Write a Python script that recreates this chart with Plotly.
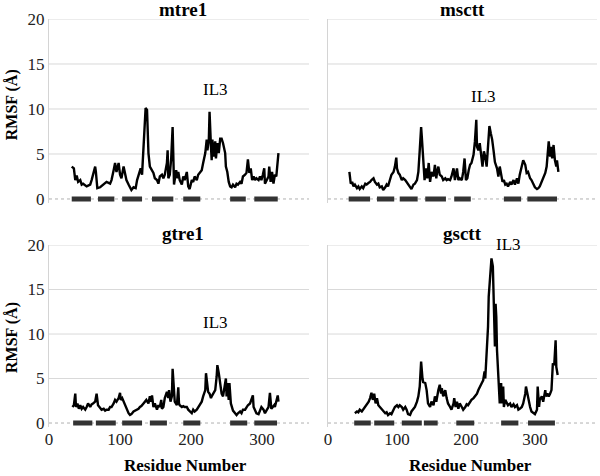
import plotly.graph_objects as go

# ---------------- data ----------------
panel_names = ["mtre1", "msctt", "gtre1", "gsctt"]

mtre1_res = [32,35,37,39,41,44,46,48,53,58,60,62,65,66,68,72,77,81,86,88,91,93,95,98,100,102,105,107,109,112,114,116,119,122,124,127,129,131,134,136,138,139,140,142,145,147,149,152,154,156,159,161,163,166,167,168,170,172,174,175,176,179,181,182,184,187,189,191,194,196,198,201,203,205,208,210,212,215,217,220,222,223,225,226,228,229,230,232,234,235,237,239,241,243,245,248,249,251,253,255,257,259,262,264,266,269,271,273,276,278,280,282,284,286,288,290,292,295,297,299,301,303,304,306,309,310,312,314,316,318,320,323]
mtre1_rmsf = [3.6,3.4,2.1,2.6,1.9,2.1,1.6,1.7,1.4,1.6, 2.1,2.7,3.6,3.0,1.2,1.3,1.6,1.9,1.7,2.1, 3.2,4.0,3.0,4.0,2.7,2.3,3.6,2.9,2.1,1.6, 1.2,1.0,1.3,1.2,2.1,3.0,3.4,2.7,6.6,10.1, 9.9,8.0,5.1,3.6,3.2,2.9,2.3,2.1,1.7,2.5, 2.7,2.3,2.7,4.0,5.4,2.3,2.7,4.5,8.0,5.4, 1.6,3.2,2.3,3.0,2.1,1.6,2.5,2.1,3.0,1.4, 1.1,2.1,1.9,2.5,2.1,2.7,2.9,3.2,4.0,5.1, 6.6,5.4,6.6,9.7,5.8,4.3,6.6,4.7,6.4,4.5, 6.2,5.1,6.7,6.7,6.2,5.1,3.6,3.0,1.9,1.4, 1.3,1.6,1.3,1.7,1.6,1.9,1.7,2.5,2.7,2.9, 4.4,2.9,3.4,2.1,2.5,2.1,2.3,2.1,2.5,2.1, 2.7,3.4,1.7,2.1,2.5,3.6,1.9,3.0,1.7,2.7, 2.5,5.1]

msctt_res = [31,33,35,37,39,42,44,46,49,51,54,56,59,61,63,66,68,71,73,75,78,80,83,85,87,90,92,95,97,99,100,102,104,107,109,112,114,116,119,121,124,126,129,131,133,135,136,138,140,142,144,146,148,150,153,155,157,158,160,162,165,167,170,172,174,177,179,182,184,187,189,191,194,196,198,200,202,204,206,208,211,213,215,216,218,220,222,224,226,228,230,232,234,236,238,240,242,245,247,249,251,253,255,257,259,261,264,266,269,271,274,276,278,281,283,286,288,290,293,295,298,300,303,305,307,310,312,315,317,320,322,323,325,327,329,331,332,334]
msctt_rmsf = [3.0,1.7,1.9,1.4,1.6,1.2,1.4,1.1,1.4,1.2, 1.7,1.6,1.8,1.9,2.1,2.3,1.9,1.6,1.7,1.3, 1.4,1.0,1.3,1.6,1.4,2.1,2.7,3.0,3.6,4.6, 3.4,2.9,2.7,2.1,2.3,2.1,1.9,1.7,1.3,1.1, 1.6,1.7,2.1,3.0,5.4,8.0,6.9,4.7,2.1,3.4, 2.3,4.0,1.9,3.0,2.5,3.8,2.3,2.9,3.6,2.7, 2.5,2.1,2.3,2.1,2.2,2.1,2.5,3.4,2.1,3.4, 2.1,2.3,2.1,3.0,4.5,2.1,2.3,3.2,3.8,4.0, 4.9,6.4,8.8,5.8,5.4,6.2,4.7,3.6,5.3,4.7, 3.6,6.2,8.1,7.3,6.6,5.4,4.1,3.4,2.5,3.6, 2.7,1.9,2.1,1.6,1.7,1.4,1.9,1.6,2.1,1.6, 2.3,1.7,2.7,3.6,4.3,3.8,2.9,3.0,2.3,2.1, 1.6,1.3,1.1,1.2,1.4,1.9,2.3,2.9,3.6,6.4, 4.7,5.8,4.5,6.0,4.3,3.6,4.3,3.0]

gtre1_res = [33,35,37,38,40,42,44,46,48,51,53,55,58,60,62,65,67,69,71,74,77,79,81,84,86,88,91,93,95,98,100,101,103,106,108,110,112,114,116,119,121,123,126,128,130,133,135,137,140,142,144,145,147,149,152,154,156,158,159,161,163,166,168,169,171,173,174,176,177,180,182,183,184,187,189,191,194,196,198,201,203,205,208,210,212,215,217,220,221,222,224,226,228,229,231,234,236,237,239,241,243,245,247,249,250,251,253,254,256,258,259,262,264,266,269,271,273,276,278,280,283,285,287,288,290,292,295,297,299,302,304,306,309,310,311,313,315,317,318,320,322,323]
gtre1_rmsf = [1.8,2.0,3.3,1.8,2.2,1.6,2.0,1.6,1.8,1.5, 1.8,2.2,1.8,2.1,2.2,2.4,3.3,2.0,1.8,1.5, 1.6,1.4,1.5,1.5,1.8,1.8,2.2,2.6,2.4,2.8, 3.4,2.6,2.8,2.2,1.8,1.5,1.1,0.9,1.0,1.3, 1.4,1.5,1.6,1.8,1.9,2.2,2.4,2.6,2.2,3.0, 2.4,3.1,1.8,2.2,1.5,2.0,1.8,2.6,1.6,1.8, 2.8,3.5,2.8,3.7,2.4,3.0,6.1,3.7,2.4,2.0, 4.0,2.2,2.0,1.8,1.9,1.8,1.8,1.5,1.3,1.1, 1.5,1.3,1.5,1.8,2.1,2.4,3.0,3.7,5.6,4.6, 3.5,3.3,2.8,3.0,3.3,3.7,5.2,6.5,5.6,4.5, 3.3,3.0,4.1,5.0,3.0,4.5,2.6,4.5,2.2,1.8, 1.4,1.1,0.9,1.1,1.3,1.1,1.5,1.5,1.8,2.0, 2.2,2.8,3.1,1.8,1.5,1.1,1.0,1.5,1.8,1.5, 1.1,1.4,1.8,2.6,3.4,1.6,1.8,2.0,1.8,2.6, 3.1,2.4]

gsctt_res = [39,42,44,46,49,51,54,56,59,61,63,65,67,69,71,73,75,78,80,83,85,87,90,92,95,97,100,102,104,107,109,112,114,116,119,121,124,126,129,131,133,135,137,138,141,143,145,148,150,153,155,157,160,162,164,165,167,170,172,174,177,179,182,183,185,187,189,191,194,196,199,201,203,206,208,211,213,216,218,220,223,225,227,228,230,232,233,235,236,237,239,240,241,242,243,244,245,247,248,249,251,252,254,255,257,259,261,264,266,269,271,274,276,278,281,283,286,287,289,291,293,295,298,300,303,304,306,307,310,312,315,316,318,320,322,324,326,328,330,331,333]
gsctt_rmsf = [1.1,1.3,1.2,1.5,1.3,1.5,1.8,2.0,2.4,2.8, 3.4,2.6,3.3,2.2,2.8,2.0,1.8,1.5,1.3,1.1, 1.2,0.9,1.1,1.0,1.5,1.8,2.0,1.8,2.0,1.8, 1.5,1.8,1.5,1.0,0.9,1.3,1.6,1.8,2.4,3.0, 4.1,6.9,5.0,4.6,4.5,3.7,2.2,1.8,2.4,2.0, 3.0,2.4,3.7,4.3,3.3,3.9,3.0,3.7,2.8,2.2, 1.8,1.5,2.2,2.8,1.8,2.4,1.6,2.2,1.8,1.5, 1.8,2.1,2.0,2.4,2.6,2.8,3.0,3.3,3.7,4.1, 4.5,4.8,5.8,5.0,8.2,10.8,14.2,16.4,17.9,18.5, 17.6,14.9,11.9,8.6,13.4,11.9,8.2,4.5,3.7,2.2, 4.5,2.2,4.1,1.8,2.6,2.2,2.0,2.2,1.8,2.1, 1.8,2.0,1.5,1.6,1.8,2.2,3.3,4.1,3.3,2.2, 1.8,1.3,1.1,1.0,1.5,4.1,1.8,2.6,3.0,2.4, 3.7,3.0,3.3,3.0,3.3,3.7,6.7,6.5,9.3,6.3, 5.4]

# transmembrane helix segments (start / end residue)
mtre1_tm_start = [32, 69, 103, 145, 189, 255, 289]
mtre1_tm_end   = [59, 92, 131, 175, 213, 277, 322]
msctt_tm_start = [30, 71, 104, 141, 183, 255, 289]
msctt_tm_end   = [61, 96, 130, 171, 207, 280, 332]
gtre1_tm_start = [34, 66, 103, 142, 189, 255, 289]
gtre1_tm_end   = [61, 94, 131, 166, 213, 279, 321]
gsctt_tm_start = [38, 67, 107, 139, 186, 251, 290]
gsctt_tm_end   = [62, 96, 136, 159, 212, 276, 329]

# IL3 label positions (residue, RMSF)
il3_x = [235, 225, 235, 261]
il3_y = [12.2, 11.4, 11.3, 20.0]

y_ticks = [0, 5, 10, 15, 20]
x_ticks = [0, 100, 200, 300]

# ---------------- figure ----------------
SERIF = "Liberation Serif"
series = [
    (mtre1_res, mtre1_rmsf, mtre1_tm_start, mtre1_tm_end),
    (msctt_res, msctt_rmsf, msctt_tm_start, msctt_tm_end),
    (gtre1_res, gtre1_rmsf, gtre1_tm_start, gtre1_tm_end),
    (gsctt_res, gsctt_rmsf, gsctt_tm_start, gsctt_tm_end),
]

fig = go.Figure()
for i, (rx, ry, ts, te) in enumerate(series):
    n = i + 1
    xa = "x" if n == 1 else f"x{n}"
    ya = "y" if n == 1 else f"y{n}"
    bx, by = [], []
    for s, e in zip(ts, te):
        bx += [s, e, None]
        by += [0, 0, None]
    fig.add_trace(go.Scatter(x=bx, y=by, mode="lines", xaxis=xa, yaxis=ya,
                             line=dict(color="#333333", width=5), hoverinfo="skip",
                             showlegend=False))
    fig.add_trace(go.Scatter(x=rx, y=ry, mode="lines", xaxis=xa, yaxis=ya,
                             line=dict(color="black", width=2.4), showlegend=False,
                             name=panel_names[i]))

xL = [49 / 600, 309 / 600]
xR = [328 / 600, 597 / 600]
yT = [0.5744, 0.9601]
yB = [0.1038, 0.4853]
xranges = [[0, 366], [0, 390], [0, 366], [0, 390]]
xdoms = [xL, xR, xL, xR]
ydoms = [yT, yT, yB, yB]

tickfont = dict(family=SERIF, size=17, color="#222222")
layout = dict(width=600, height=476, margin=dict(l=0, r=0, t=0, b=0, pad=0),
              plot_bgcolor="white", paper_bgcolor="white", showlegend=False,
              template="none", font=dict(family=SERIF, color="black"))
shapes = []
annotations = []
for i in range(4):
    n = i + 1
    sx = "" if n == 1 else str(n)
    layout[f"xaxis{sx}"] = dict(domain=xdoms[i], range=xranges[i], anchor=f"y{sx}",
                                showgrid=False, zeroline=False, showline=False,
                                automargin=False,
                                tickvals=x_ticks, ticks="",
                                showticklabels=(i >= 2), tickfont=tickfont)
    layout[f"yaxis{sx}"] = dict(domain=ydoms[i], range=[-0.4, 20], anchor=f"x{sx}",
                                showgrid=False, zeroline=False, showline=True,
                                automargin=False,
                                linecolor="#d4d4d4", linewidth=1,
                                tickvals=y_ticks, ticks="",
                                showticklabels=(i % 2 == 0), tickfont=tickfont)
    xr = f"x{sx} domain"
    yr = f"y{sx}"
    for v in y_ticks[1:]:
        shapes.append(dict(type="line", xref=xr, yref=yr, x0=0, x1=1, y0=v, y1=v,
                           line=dict(color="#d9d9d9", width=1), layer="below"))
    shapes.append(dict(type="line", xref=xr, yref=yr, x0=0, x1=1, y0=0, y1=0,
                       line=dict(color="#b0b0b0", width=1, dash="dot"), layer="below"))
    annotations.append(dict(x=il3_x[i], y=il3_y[i], xref=f"x{sx}", yref=f"y{sx}",
                            text="IL3", showarrow=False,
                            font=dict(family=SERIF, size=17, color="black")))

title_pos = [(183 / 600, 0.981), (462 / 600, 0.981), (183 / 600, 0.5105), (462 / 600, 0.5105)]
for name, (tx, ty) in zip(panel_names, title_pos):
    annotations.append(dict(x=tx, y=ty, xref="paper", yref="paper", text=f"<b>{name}</b>",
                            showarrow=False, xanchor="center", yanchor="middle",
                            font=dict(family=SERIF, size=19, color="black")))
for ty in [0.779, 0.29]:
    annotations.append(dict(x=12 / 600, y=ty, xref="paper", yref="paper",
                            text="<b>RMSF (Å)</b>", textangle=-90, showarrow=False,
                            xanchor="center", yanchor="middle",
                            font=dict(family=SERIF, size=16, color="black")))
for tx in [185 / 600, 470 / 600]:
    annotations.append(dict(x=tx, y=1 - 465 / 476, xref="paper", yref="paper",
                            text="<b>Residue Number</b>", showarrow=False,
                            xanchor="center", yanchor="middle",
                            font=dict(family=SERIF, size=17, color="black")))

layout["shapes"] = shapes
layout["annotations"] = annotations
fig.update_layout(**layout)
fig.write_html("out.html", config={"displayModeBar": False},
               post_script="document.body.style.margin='0';document.body.style.padding='0';")
